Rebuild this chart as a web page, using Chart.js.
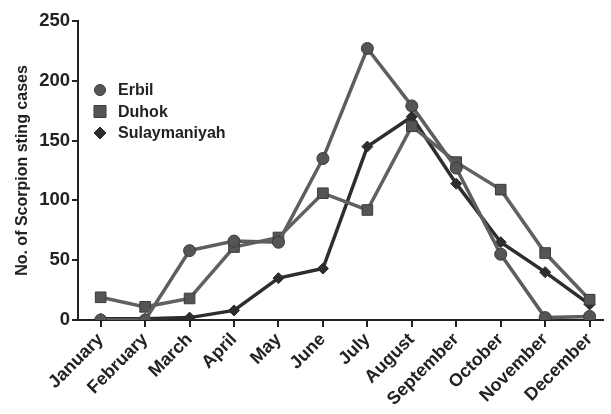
<!DOCTYPE html>
<html>
<head>
<meta charset="utf-8">
<script src="https://cdn.jsdelivr.net/npm/chart.js@4.4.0/dist/chart.umd.min.js"></script>
<style>
    html, body { margin: 0; padding: 0; background: #fff; }
    #wrap { width: 611px; height: 414px; }
</style>
</head>
<body>
<div id="wrap"><canvas id="grafico"></canvas></div>
<script>
const months = ["January", "February", "March", "April", "May", "June", "July", "August", "September", "October", "November", "December"];
const erbil = [0, 0, 58, 66, 65, 135, 227, 179, 127, 55, 2, 3];
const duhok = [19, 11, 18, 61, 69, 106, 92, 162, 132, 109, 56, 17];
const sulaymaniyah = [1, 1, 2, 8, 35, 43, 145, 170, 114, 65, 40, 13];
const yTicks = [0, 50, 100, 150, 200, 250];

function pontos(valores) {
    return valores.map(function(v, i) { return { x: i, y: v }; });
}

// legenda desenhada dentro da área do gráfico
const legendaInterna = {
    id: "legendaInterna",
    afterDraw: function(chart) {
        const ctx = chart.ctx;
        ctx.save();
        ctx.font = "bold 16px 'Liberation Sans', Arial, sans-serif";
        ctx.textBaseline = "middle";
        chart.data.datasets.forEach(function(ds, i) {
            const x = 100, y = 90 + i * 21.5;
            ctx.fillStyle = ds.pointBackgroundColor;
            ctx.strokeStyle = ds.pointBorderColor;
            ctx.lineWidth = 1;
            ctx.beginPath();
            if (ds.pointStyle === "circle") {
                ctx.arc(x, y, 5.5, 0, Math.PI * 2);
            } else if (ds.pointStyle === "rect") {
                ctx.rect(x - 6, y - 6, 12, 12);
            } else {
                ctx.moveTo(x, y - 6); ctx.lineTo(x + 6, y); ctx.lineTo(x, y + 6); ctx.lineTo(x - 6, y); ctx.closePath();
            }
            ctx.fill();
            ctx.stroke();
            ctx.fillStyle = "#222";
            ctx.fillText(ds.label, 118, y + 1);
        });
        ctx.restore();
    }
};

document.addEventListener("DOMContentLoaded", function() {
    const ctx = document.getElementById("grafico").getContext("2d");
    new Chart(ctx, {
        type: "line",
        data: {
            datasets: [{
                label: "Erbil",
                data: pontos(erbil),
                borderColor: "#5e5e5e",
                borderWidth: 3.5,
                pointStyle: "circle",
                pointRadius: 6,
                pointBackgroundColor: "#555555",
                pointBorderColor: "#3a3a3a",
                pointBorderWidth: 1,
                tension: 0
            }, {
                label: "Duhok",
                data: pontos(duhok),
                borderColor: "#616161",
                borderWidth: 3.5,
                pointStyle: "rect",
                pointRadius: 7.5,
                pointBackgroundColor: "#555555",
                pointBorderColor: "#3a3a3a",
                pointBorderWidth: 1,
                tension: 0
            }, {
                label: "Sulaymaniyah",
                data: pontos(sulaymaniyah),
                borderColor: "#2e2e2e",
                borderWidth: 3.5,
                pointStyle: "rectRot",
                pointRadius: 5.5,
                pointBackgroundColor: "#2e2e2e",
                pointBorderColor: "#2a2a2a",
                pointBorderWidth: 1,
                tension: 0
            }]
        },
        options: {
            responsive: true,
            maintainAspectRatio: false,
            animation: false,
            layout: { padding: { top: 21, right: 1, left: 0, bottom: 0 } },
            plugins: {
                legend: { display: false },
                tooltip: { enabled: false }
            },
            scales: {
                x: {
                    type: "linear",
                    min: -0.51,
                    max: 11.29,
                    afterFit: function(scale) { scale.height = 94; },
                    afterBuildTicks: function(scale) {
                        scale.ticks = months.map(function(m, i) { return { value: i }; });
                    },
                    border: { display: true, color: "#222", width: 2 },
                    grid: { drawOnChartArea: false, drawTicks: true, tickLength: 7, color: "#222", lineWidth: 2 },
                    ticks: {
                        autoSkip: false,
                        minRotation: 45,
                        maxRotation: 45,
                        padding: 2,
                        color: "#222",
                        font: { family: "'Liberation Sans', Arial, sans-serif", size: 18, weight: "bold" },
                        callback: function(v) { return months[v]; }
                    }
                },
                y: {
                    min: 0,
                    max: 250,
                    afterFit: function(scale) { scale.width = 78; },
                    afterBuildTicks: function(scale) {
                        scale.ticks = yTicks.map(function(v) { return { value: v }; });
                    },
                    border: { display: true, color: "#222", width: 2 },
                    grid: { drawOnChartArea: false, drawTicks: true, tickLength: 6, color: "#222", lineWidth: 2 },
                    ticks: {
                        padding: 2,
                        color: "#222",
                        font: { family: "'Liberation Sans', Arial, sans-serif", size: 18.5, weight: "bold" }
                    },
                    title: {
                        display: true,
                        text: "No. of Scorpion sting cases",
                        color: "#222",
                        padding: { top: 13, bottom: 0 },
                        font: { family: "'Liberation Sans', Arial, sans-serif", size: 16, weight: "bold" }
                    }
                }
            }
        },
        plugins: [legendaInterna]
    });
});
</script>
</body>
</html>
